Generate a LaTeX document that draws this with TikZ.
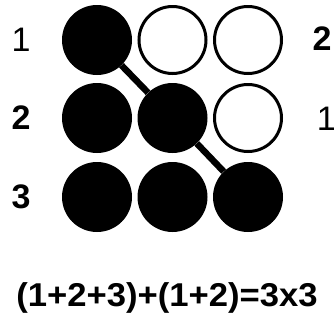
\documentclass[tikz,border=0pt]{standalone}
\usepackage{fontspec}
\setmainfont{Liberation Sans}
\begin{document}
\begin{tikzpicture}[x=1pt,y=-1pt,
  full/.style={circle,fill=black,draw=none,minimum size=70pt,inner sep=0pt},
  empty/.style={circle,fill=white,draw=black,line width=3pt,minimum size=67pt,inner sep=0pt},
  lbl/.style={font=\fontsize{34}{34}\selectfont\bfseries,inner sep=0pt},
  link/.style={line width=6.5pt}]
\useasboundingbox (0,0) rectangle (335,322);
\node[full]  (a11) at (97,40) {};
\node[empty] (a12) at (172.5,40) {};
\node[empty] (a13) at (248,40) {};
\node[full]  (a21) at (97,118) {};
\node[full]  (a22) at (172.5,118) {};
\node[empty] (a23) at (248,118) {};
\node[full]  (a31) at (97,197) {};
\node[full]  (a32) at (172.5,197) {};
\node[full]  (a33) at (248,197) {};
\draw[link] (a11) -- (a22);
\draw[link] (a22) -- (a33);
\node[lbl,font=\fontsize{34}{34}\selectfont] (l1) at (21,40) {1};
\node[lbl] (l2) at (21,118) {2};
\node[lbl] (l3) at (21,197) {3};
\node[lbl] (r2) at (322,39) {2};
\node[lbl,font=\fontsize{34}{34}\selectfont,anchor=east] (r1) at (336,119) {1};
\node[lbl,font=\fontsize{33}{33}\selectfont\bfseries,xscale=1.05] (eq) at (167,298) {(1+2+3)+(1+2)=3x3};
\end{tikzpicture}
\end{document}
